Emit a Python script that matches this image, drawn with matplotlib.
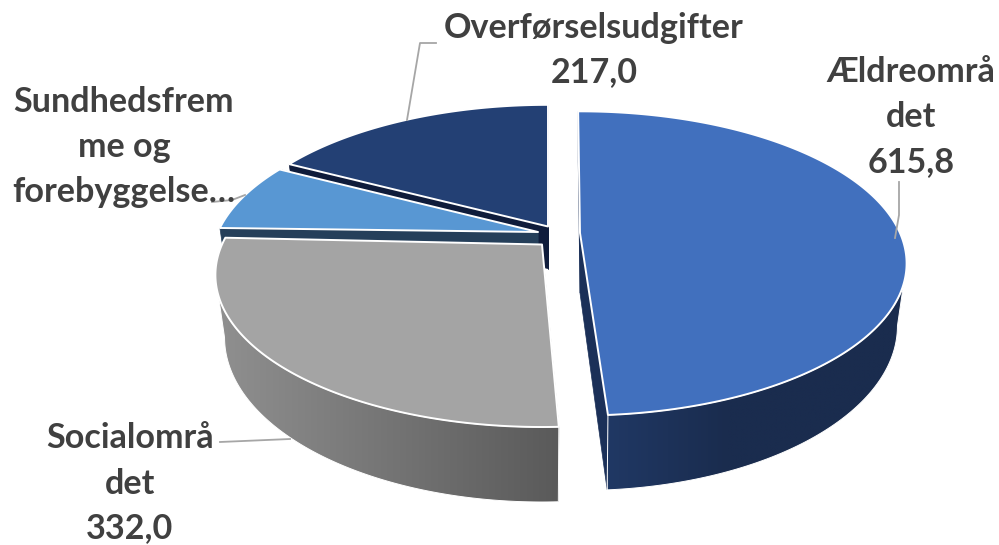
import matplotlib
matplotlib.use('Agg')
import matplotlib.pyplot as plt
from matplotlib.colors import LinearSegmentedColormap
from matplotlib.patches import Polygon
import numpy as np

# data, clockwise from 12 o'clock (the "forebyggelse" value is cut off in the picture, estimated)
categories = ['Ældreområdet', 'Socialområdet', 'Sundhedsfremme og forebyggelse', 'Overførselsudgifter']
values = [615.8, 332.0, 92.0, 217.0]
labels = ['Ældreområ\ndet\n615,8', 'Socialområ\ndet\n332,0', 'Sundhedsfrem\nme og\nforebyggelse…', 'Overførselsudgifter\n217,0']

# looks
top_colors = ['#4170be', '#a4a4a4', '#5897d3', '#234074']
side_colors = ['#1b3058', '#5a5a5a', '#253f5a', '#0f1c3b']
wall_left = ['#203864', '#909090', '#2f5375', '#16294f']
wall_right = ['#1a2c4e', '#5a5a5a', '#2f5375', '#16294f']
wall_stop = [0.4, 1, 1, 1]
apex_x = [580, 542, 538, 548]
apex_y = [233, 244.5, 232, 226.5]
nudge = [0, 1.6, 0.5, 0.4]
cut_depth = [60, 60, 60, 42]
label_x = [911, 130, 124, 594]
label_y = [117, 483.5, 147, 50]
start_angle = -0.4
rx = 320
ry = 146
depth = 60
persp = 0.2
shrink = 0.972

draw_order = [3, 2, 1, 0]


def rim(i, a, b, n=200):
    phi = np.radians(np.linspace(a, b, n))
    u = np.sin(phi)
    v = -np.cos(phi)
    w = 1 / (1 - persp * v)
    return apex_x[i] + rx * u * w, apex_y[i] + ry * v * w, depth * w


fig = plt.figure(figsize=(9.99, 5.45), dpi=100)
ax = fig.add_axes([0, 0, 1, 1])

spans = np.array(values) / sum(values) * 360
starts = start_angle + np.concatenate([[0], np.cumsum(spans)[:-1]])

for i in draw_order:
    a = starts[i] + nudge[i]
    b = a + spans[i]
    x, y, d = rim(i, a, b)
    # the lower plane is further from the viewer, so a bit narrower
    xb = apex_x[i] + (x - apex_x[i]) * shrink
    yb = y + d

    # the two cut faces
    for k in [0, -1]:
        quad = [(apex_x[i], apex_y[i]), (x[k], y[k]), (xb[k], yb[k]), (apex_x[i], apex_y[i] + cut_depth[i])]
        ax.add_patch(Polygon(quad, fc=side_colors[i], ec=side_colors[i], lw=0.5))

    # outer wall with a left to right shade, only the part in front of the widest point shows
    front = y >= y[np.argmax(np.abs(x - apex_x[i]))]
    if front.sum() > 2:
        outline = list(zip(x[front], y[front])) + list(zip(xb[front][::-1], yb[front][::-1]))
        wall = Polygon(outline, fc='none', ec='none')
        ax.add_patch(wall)
        stops = [(0, wall_left[i]), (wall_stop[i], wall_right[i])]
        if wall_stop[i] < 1:
            stops.append((1, wall_right[i]))
        cmap = LinearSegmentedColormap.from_list('wall', stops)
        im = ax.imshow(np.linspace(0, 1, 256).reshape(1, -1), cmap=cmap, aspect='auto',
                       extent=(x[front].min(), x[front].max(), yb.max(), y[front].min()),
                       interpolation='bilinear')
        im.set_clip_path(wall)
        ax.add_patch(Polygon(outline, fc='none', ec='white', lw=0.7))

    # top face
    pts = [(apex_x[i], apex_y[i])] + list(zip(x, y))
    ax.add_patch(Polygon(pts, fc=top_colors[i], ec='white', lw=1.4, joinstyle='round'))

# leader lines
ax.plot([407, 420, 436], [120, 43, 43], color='#a6a6a6', lw=1.3)
ax.plot([895, 899, 899], [238, 215, 182], color='#a6a6a6', lw=1.3)
ax.plot([212, 232, 245], [202, 200, 195], color='#a6a6a6', lw=1.3)
ax.plot([220, 290], [442, 439], color='#a6a6a6', lw=1.3)

for i in range(len(labels)):
    ax.text(label_x[i], label_y[i], labels[i], ha='center', va='center', family='Lato',
            fontweight='bold', fontsize=24.6, color='#404040', linespacing=1.5)

ax.set_xlim(0, 999)
ax.set_ylim(545, 0)
ax.axis('off')

plt.savefig('out.png', dpi=100)
